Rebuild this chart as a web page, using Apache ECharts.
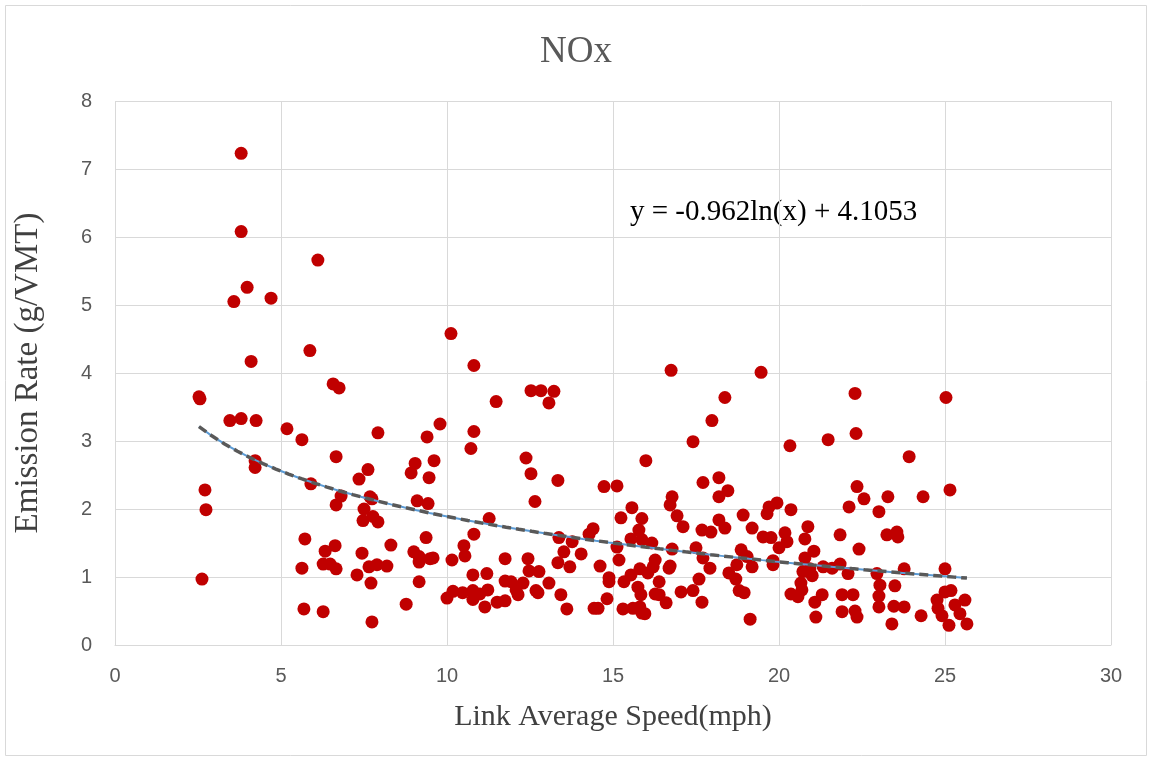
<!DOCTYPE html>
<html>
<head>
<meta charset="utf-8">
<script src="https://cdn.jsdelivr.net/npm/echarts@6/dist/echarts.min.js"></script>
<style>
  html, body { margin: 0; padding: 0; background: #fff; }
  #chart { width: 1152px; height: 761px; }
</style>
</head>
<body>
<div id="chart"></div>
<script>
// link average speed (mph)
var speed = [
  2.53, 2.56, 2.71, 2.74, 2.62, 3.80, 3.80, 3.58, 3.98, 3.80, 3.46, 4.10, 4.25, 4.22, 4.22, 4.70,
  5.18, 5.63, 6.66, 5.90, 6.81, 6.66, 7.92, 7.62, 7.35, 7.68, 7.74, 7.50, 7.47, 7.77, 7.92,
  9.04, 8.92, 9.61, 9.40, 9.79, 9.46, 9.10, 9.43, 10.81, 10.72, 5.72, 6.33, 6.63, 6.27, 6.48,
  6.66, 5.63, 5.69, 6.27, 7.44, 7.29, 7.65, 7.89, 8.19, 7.71, 7.74, 8.31, 8.77, 9.37, 9.00,
  9.16, 9.16, 9.49, 9.58, 9.16, 10.15, 10.51, 10.54, 10.81, 10.78, 10.00, 10.18, 10.47, 10.78,
  10.78, 6.11, 10.12, 5.87, 10.81, 6.57, 6.75, 11.48, 12.53, 12.83, 13.22, 13.07, 16.75, 18.37,
  17.98, 17.41, 15.99, 12.38, 12.53, 13.34, 12.65, 14.73, 15.12, 17.71, 18.19, 18.19, 18.46,
  16.78, 16.72, 15.57, 15.24, 15.87, 16.93, 17.11, 11.27, 15.78, 14.40, 14.28, 13.37, 13.77,
  15.54, 15.87, 16.17, 17.68, 17.95, 18.19, 18.37, 15.12, 16.78, 17.50, 11.75, 12.44, 13.52,
  14.04, 13.34, 13.70, 14.61, 15.18, 16.27, 16.21, 16.69, 16.72, 17.71, 17.92, 11.20, 12.47,
  12.77, 11.75, 11.93, 12.29, 12.08, 13.07, 13.43, 12.68, 12.74, 12.14, 14.88, 14.88, 15.54,
  15.33, 15.81, 16.05, 16.39, 15.75, 15.84, 16.27, 16.39, 16.60, 17.05, 17.41, 17.59, 17.68,
  18.49, 14.82, 14.43, 14.55, 13.61, 15.30, 15.60, 15.81, 15.87, 15.96, 10.99, 11.23, 11.14,
  11.51, 11.75, 19.46, 22.29, 25.03, 22.32, 21.48, 20.33, 23.92, 22.35, 22.56, 23.28, 24.34,
  25.15, 22.11, 23.01, 19.94, 19.70, 19.64, 20.36, 18.92, 19.19, 19.52, 19.76, 20.18, 20.24,
  20.87, 20.78, 20.00, 21.05, 21.84, 22.41, 23.25, 23.55, 23.58, 18.86, 19.04, 18.73, 19.19,
  19.82, 19.82, 20.78, 20.72, 21.00, 20.93, 21.33, 21.60, 21.84, 22.08, 22.95, 23.04, 23.01,
  23.01, 23.77, 23.49, 25.00, 18.70, 18.80, 18.95, 19.13, 20.36, 20.57, 20.66, 20.69, 21.08,
  21.11, 21.30, 21.90, 22.23, 21.90, 22.29, 22.35, 23.40, 23.46, 23.77, 24.28, 24.76, 24.79,
  24.91, 25.00, 25.18, 25.12, 25.30, 25.45, 25.60, 25.66
];
// NOx emission rate (g/VMT)
var rate = [
  3.65, 3.62, 2.28, 1.99, 0.97, 7.23, 6.08, 5.05, 5.26, 3.33, 3.30, 4.17, 3.30, 2.71, 2.61, 5.10,
  3.18, 3.02, 2.77, 2.37, 2.19, 2.06, 3.12, 2.58, 2.44, 2.18, 2.15, 2.00, 1.83, 1.89, 1.81,
  2.67, 2.53, 2.71, 3.06, 3.25, 2.46, 2.12, 2.08, 3.14, 2.89, 1.56, 1.38, 1.46, 1.19, 1.19,
  1.12, 1.13, 0.53, 0.49, 1.35, 1.03, 1.15, 1.18, 1.16, 0.91, 0.34, 1.47, 0.60, 1.58, 1.37,
  1.30, 1.22, 1.27, 1.28, 0.93, 1.25, 1.46, 1.31, 1.63, 1.03, 0.69, 0.79, 0.77, 0.80,
  0.67, 5.66, 4.58, 4.33, 4.11, 3.84, 3.78, 3.58, 3.74, 3.74, 3.73, 3.56, 4.04, 3.64,
  3.30, 2.99, 2.71, 2.75, 2.52, 2.42, 2.11, 2.33, 2.34, 2.39, 2.46, 2.18, 2.27,
  2.18, 2.06, 2.02, 1.87, 1.86, 1.90, 1.74, 1.86, 1.69, 1.71, 1.63, 1.58, 1.52,
  1.56, 1.55, 1.50, 1.69, 1.66, 1.84, 1.72, 1.44, 1.41, 1.43, 1.27, 1.27, 1.37,
  1.34, 1.21, 1.15, 1.16, 1.25, 1.25, 1.15, 1.13, 1.16, 1.28, 1.13, 1.05, 1.09,
  1.08, 0.94, 0.93, 0.91, 0.81, 0.91, 0.74, 0.80, 0.77, 0.74, 0.99, 0.93, 1.03,
  0.93, 1.12, 1.06, 0.93, 0.85, 0.74, 0.75, 0.74, 0.62, 0.78, 0.80, 0.97, 0.63,
  1.06, 0.68, 0.54, 0.54, 0.53, 0.53, 0.54, 0.56, 0.47, 0.46, 0.75, 0.81, 0.56,
  0.63, 0.65, 4.01, 3.70, 3.64, 3.11, 3.02, 2.93, 2.77, 2.33, 2.15, 2.18, 2.18,
  2.28, 2.03, 1.96, 2.09, 2.03, 1.93, 1.99, 1.91, 1.72, 1.59, 1.58, 1.65, 1.52,
  1.74, 1.56, 1.43, 1.38, 1.62, 1.41, 1.62, 1.66, 1.59, 1.40, 1.30, 1.18, 1.15,
  1.18, 1.24, 1.28, 1.08, 1.02, 1.12, 1.15, 1.13, 1.19, 1.05, 1.05, 0.88, 0.72,
  0.56, 1.12, 0.87, 1.12, 0.97, 0.80, 0.77, 0.38, 0.75, 0.71, 0.91, 0.81, 0.63,
  0.41, 0.74, 0.74, 0.74, 0.49, 0.50, 0.41, 0.31, 0.57, 0.56, 0.43, 0.66, 0.54,
  0.43, 0.78, 0.80, 0.29, 0.59, 0.46, 0.66, 0.31
];
var xTicks = [0, 5, 10, 15, 20, 25, 30];
var yTicks = [0, 1, 2, 3, 4, 5, 6, 7, 8];
// logarithmic trendline from the chart: y = a*ln(x) + b
var trendA = -0.962;
var trendB = 4.1053;

var chartDom = document.getElementById('chart');
var myChart = echarts.init(chartDom);

var points = speed.map(function (s, i) { return [s, rate[i]]; });
var xMin = Math.min.apply(null, speed);
var xMax = Math.max.apply(null, speed);
var trend = [];
for (var k = 0; k <= 60; k++) {
  var tx = xMin + (xMax - xMin) * k / 60;
  trend.push([tx, trendA * Math.log(tx) + trendB]);
}

var gridColor = '#d9d9d9';
var labelStyle = { color: '#595959', fontFamily: 'Liberation Sans', fontSize: 20 };

var option = {
  animation: false,
  backgroundColor: '#fff',
  title: {
    text: 'NOx',
    left: 'center',
    top: 29,
    textStyle: { fontFamily: 'Liberation Serif', fontSize: 37, fontWeight: 'normal', color: '#595959' }
  },
  graphic: [
    {
      type: 'rect',
      shape: { x: 5.5, y: 5.5, width: 1141, height: 750 },
      style: { fill: null, stroke: '#d9d9d9', lineWidth: 1 }
    },
    {
      type: 'text',
      left: 630,
      top: 198,
      style: { text: 'y = -0.962ln(x) + 4.1053', font: '29px "Liberation Serif"', fill: '#000' }
    }
  ],
  grid: { left: 115, right: 41, top: 101, bottom: 116 },
  xAxis: {
    type: 'value',
    min: xTicks[0],
    max: xTicks[xTicks.length - 1],
    interval: 5,
    name: 'Link Average Speed(mph)',
    nameLocation: 'middle',
    nameGap: 57,
    nameTextStyle: { fontFamily: 'Liberation Serif', fontSize: 30, color: '#404040' },
    axisLine: { show: true, lineStyle: { color: gridColor } },
    axisTick: { show: false },
    axisLabel: Object.assign({ margin: 21 }, labelStyle),
    splitLine: { show: true, lineStyle: { color: gridColor, width: 1 } }
  },
  yAxis: {
    type: 'value',
    min: yTicks[0],
    max: yTicks[yTicks.length - 1],
    interval: 1,
    name: 'Emission Rate (g/VMT)',
    nameLocation: 'middle',
    nameGap: 70,
    nameTextStyle: { fontFamily: 'Liberation Serif', fontSize: 33, color: '#404040' },
    axisLine: { show: false },
    axisTick: { show: false },
    axisLabel: Object.assign({ margin: 23 }, labelStyle),
    splitLine: { show: true, lineStyle: { color: gridColor, width: 1 } }
  },
  series: [
    {
      name: 'NOx',
      type: 'scatter',
      data: points,
      symbol: 'circle',
      symbolSize: 13,
      itemStyle: { color: '#c00000', opacity: 1 },
      z: 2
    },
    {
      name: 'trend-under',
      type: 'line',
      data: trend,
      showSymbol: false,
      smooth: false,
      lineStyle: { color: '#5b9bd5', width: 2 },
      z: 3
    },
    {
      name: 'trend',
      type: 'line',
      data: trend,
      showSymbol: false,
      smooth: false,
      lineStyle: { color: '#595959', width: 3.5, type: [9, 5] },
      z: 4
    }
  ]
};
myChart.setOption(option);
</script>
</body>
</html>
